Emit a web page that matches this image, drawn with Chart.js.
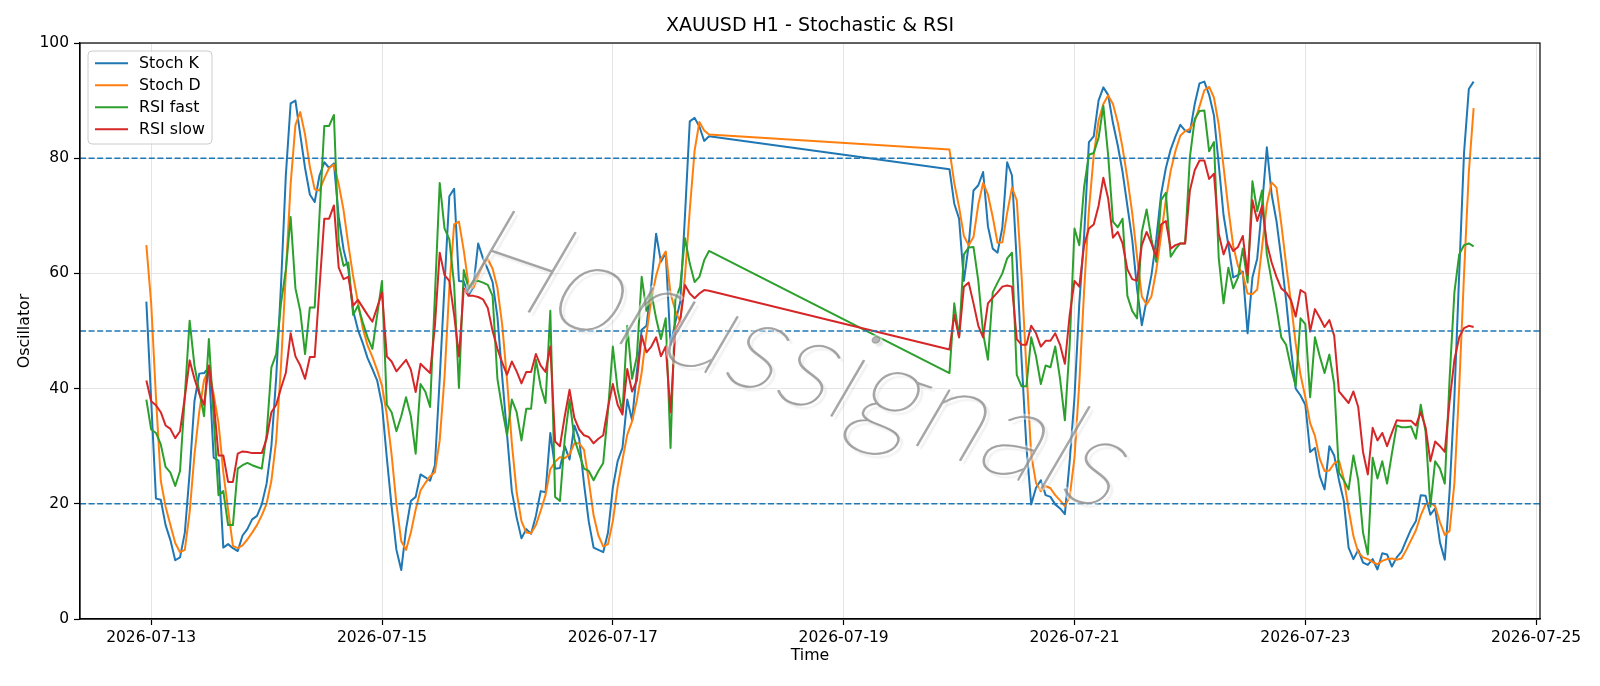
<!DOCTYPE html>
<html>
<head>
<meta charset="utf-8">
<script src="https://cdn.jsdelivr.net/npm/chart.js@4.4.1/dist/chart.umd.min.js"></script>
<style>
  html, body { margin: 0; padding: 0; background: #fff; }
  #wrap { width: 1600px; height: 686px; }
</style>
</head>
<body>
<div id="wrap"><canvas id="chart" width="1600" height="686"></canvas></div>
<script>
// ============================================================
// XAUUSD H1 — Stochastic & RSI oscillators
// ============================================================

// Hourly bars, two trading sessions (weekend gap between them)
var sessionStart1 = '2026-07-12T23:00:00Z';
var sessionStart2 = '2026-07-19T22:00:00Z';
var tickLabels = ['2026-07-13', '2026-07-15', '2026-07-17', '2026-07-19', '2026-07-21', '2026-07-23', '2026-07-25'];
var levels = [20, 50, 80];
var watermark = 'Horussignals';

// Session 1 (Mon–Fri)
var stochK1 = [
    55.1, 38, 20.9, 20.7, 16.3, 13.7, 10.2, 10.7, 15, 25.4,
    37.8, 42.6, 42.7, 43.7, 28, 27.5, 12.4, 13, 12.3, 11.8,
    14.5, 15.6, 17.3, 17.9, 19.9, 23.5, 30, 42, 58, 77,
    89.5, 90, 84.1, 78.3, 73.7, 72.4, 77, 79.3, 78.3, 79.1,
    69.8, 64.2, 60.7, 53.5, 50.2, 47.9, 45.3, 43.4, 41.4, 37.2,
    28, 19.5, 12, 8.5, 15.6, 20.5, 21.2, 25.1, 24.6, 24,
    26.7, 41.7, 58, 73.4, 74.7, 58.7, 58.6, 56.2, 57.7, 65.2,
    62.6, 60.7, 58.5, 52.5, 42, 32, 22.2, 17.6, 14, 15.6,
    14.8, 17.9, 22.2, 22, 32.3, 26.1, 26.2, 30, 27.7, 33.6,
    31.3, 23.5, 16.9, 12.4, 12, 11.6, 15, 22.8, 27.4, 29.7,
    38.1, 34.5, 43, 50.2, 50.9, 58, 66.9, 62, 63.6, 47.6,
    51.5, 55, 70, 86.4, 87, 85.5, 83, 83.8
];
var stochD1 = [
    64.9, 54.8, 38.5, 24, 19.5, 16.3, 13.2, 11.6, 12, 18.5,
    28.5, 36, 41.5, 43.3, 39, 34, 25.5, 19, 12.7, 12.3,
    12.8, 13.8, 15, 16.3, 18, 20, 24, 31, 44, 60,
    75.5, 85.8, 88, 84.1, 78.5, 74.6, 74.4, 76.5, 78.3, 78.9,
    75.5, 71, 65, 59.5, 55, 50.5, 47.5, 45.5, 43.2, 40.5,
    35.5, 28.5, 20, 13.5, 12, 15, 19, 22.3, 23.6, 24.8,
    25.5, 31, 42, 57.5, 68.5, 69, 64, 58, 57.5, 59.5,
    61.5, 62.5, 60.8, 57.5, 51, 41.5, 30.5, 22, 17, 15,
    14.9, 16.3, 18.8, 21.5, 26, 27.3, 28.1, 27.9, 28.6, 30.5,
    30.5, 29.4, 24, 18, 14.5, 12.6, 13, 17, 23, 27.6,
    32, 34.3, 38, 42.8, 49.5, 55.5, 59.6, 62.5, 63.8, 56.5,
    53.5, 51.6, 59.5, 71, 81.3, 86.3, 84.8, 84.1
];
var rsiFast1 = [
    38.1, 32.9, 32.3, 30.3, 26.4, 25.4, 23.1, 25.7, 38.8, 51.8,
    44, 39.5, 35.2, 48.6, 35, 21.5, 22.2, 16.3, 16.3, 26.1,
    26.7, 27.1, 26.7, 26.4, 26.1, 32, 43.7, 46, 54.8, 60.6,
    69.8, 57.4, 53.5, 46, 54.1, 54.1, 70, 85.6, 85.6, 87.5,
    65.2, 61.3, 61.9, 52.8, 54.4, 51.5, 48.9, 46.9, 52.8, 58.7,
    37.2, 35.9, 32.6, 35.2, 38.5, 35.2, 28.7, 40.8, 39.5, 36.8,
    56.1, 75.7, 67.8, 65.9, 58, 40.1, 60.6, 57.4, 58.7, 58.7,
    58.4, 58, 56.1, 41.7, 36.5, 31.9, 38.1, 35.9, 31, 36.5,
    36.5, 45, 40.4, 37.5, 53.5, 21.2, 20.5, 31.3, 38.1, 31.3,
    28.7, 26.1, 25.7, 24.1, 25.7, 27.1, 36.2, 47.3, 39.8, 35.9,
    50.9, 41.7, 45.6, 59.4, 53.5, 56.7, 52.2, 48.6, 52.2, 29.7,
    55.4, 57.7, 66.1, 61.7, 58.5, 59.4, 62.3, 63.9
];
var rsiSlow1 = [
    41.4, 37.8, 37.1, 35.9, 33.6, 33, 31.4, 32.6, 38.5, 44.9,
    41.7, 39.1, 37.2, 44, 37.8, 28.4, 28.4, 23.8, 23.8, 28.7,
    29.1, 29, 28.8, 28.8, 28.8, 31.3, 35.9, 37.2, 40.1, 42.7,
    49.6, 45.6, 44, 41.7, 45.5, 45.5, 57.5, 69.5, 69.5, 71.8,
    61, 59, 59.4, 54.4, 55.4, 54.1, 52.8, 51.6, 54.1, 56.7,
    45.6, 44.7, 43, 44, 45, 43.3, 39.4, 44.3, 43.5, 42.7,
    50.9, 63.6, 59.7, 58.7, 52.8, 45.6, 57.4, 56.1, 56.1, 55.9,
    55.5, 54, 50, 46.9, 44.5, 42.4, 44.7, 43, 40.9, 42.9,
    42.9, 46, 44, 42.9, 47.3, 30.8, 30, 35.2, 39.8, 34.9,
    32.9, 31.9, 31.6, 30.5, 31.3, 31.9, 36.8, 40.8, 37.2, 35.5,
    43.4, 39.5, 41.4, 49.2, 46.3, 47.3, 48.9, 45.6, 47.3, 35.9,
    50.2, 51.8, 58, 56.5, 55.7, 56.5, 57.1, 57
];

// Session 2 (Sun evening – Fri)
var stochK2 = [
    78.1, 72.1, 69.5, 58.7, 64.9, 74.4, 75.3, 77.6, 68.2, 64.3,
    63.6, 68, 79.3, 77, 62, 45, 30, 19.9, 22.8, 24.1,
    21.5, 21.2, 19.9, 19.2, 18.2, 27.4, 38.5, 54.8, 66.5, 82.8,
    83.8, 90, 92.3, 91, 86.1, 82.2, 77.6, 71.7, 65.9, 57.4,
    51, 55.4, 59.7, 65.9, 73.7, 78.3, 81.5, 83.8, 85.8, 84.8,
    84.5, 89.4, 93, 93.3, 91, 87.4, 78.9, 70.1, 64.9, 59.3,
    59.7, 60.3, 49.6, 59.3, 62.6, 71.7, 81.9, 73.7, 69.1, 62.6,
    55.4, 47, 40, 38.8, 37.2, 29, 29.7, 24.8, 22.5, 30,
    28.4, 24.1, 20.5, 12.4, 10.4, 12, 9.8, 9.4, 10.4, 8.6,
    11.4, 11.2, 9.1, 10.7, 11.7, 13.7, 15.6, 17, 21.5, 21.4,
    18.1, 19.2, 13.3, 10.3, 22.2, 38.5, 60, 80.9, 92, 93.3
];
var stochD2 = [
    81.5, 75.7, 71.5, 66.5, 64.9, 66.3, 72, 75.7, 73.7, 69.8,
    65.3, 65.4, 70.5, 74.9, 72.7, 59.5, 43.5, 28.5, 23.6, 22.2,
    23.1, 22.7, 21.5, 20.6, 19.6, 21.2, 28, 41, 57, 71,
    80.5, 86.5, 89.4, 90.9, 89.4, 86.2, 81.8, 76.5, 70.5, 63,
    56, 54.6, 56, 60.5, 66.5, 72.8, 77.8, 81.3, 83.9, 84.7,
    85.1, 86.4, 89, 91.8, 92.4, 90.5, 85.8, 78.5, 71.2, 64.8,
    61.3, 59.8, 56.5, 56.4, 57.2, 64.5, 72, 75.8, 74.9, 68.6,
    61.6, 55, 47.8, 42.4, 38.5, 34, 31.8, 27.8, 25.7, 25.8,
    27, 27.5, 24.3, 19.1, 14.4, 11.6, 10.7, 10.4, 9.9, 9.5,
    10.1, 10.4, 10.5, 10.3, 10.5, 12, 13.7, 15.4, 18, 19.9,
    20.2, 19.6, 16.8, 14.6, 15.3, 23.6, 40.2, 59.8, 77.6, 88.7
];
var rsiFast2 = [
    42.7, 54.8, 48.9, 63.3, 64.5, 64.6, 58.7, 49.6, 45, 56.7,
    58.4, 60, 62.6, 63.6, 42.4, 40.4, 40.4, 48.9, 45.6, 40.8,
    44, 43.7, 47.3, 41.7, 34.5, 47.6, 67.8, 64.9, 75, 80.6,
    80.9, 83.5, 89.1, 80.5, 69, 68, 69.5, 56.1, 53.5, 52.2,
    67.2, 71.1, 65.9, 62, 72.7, 74, 62.9, 64.2, 65.2, 65.2,
    80.2, 86.8, 88.2, 88.3, 81.2, 82.8, 62.6, 54.8, 61, 57.4,
    59.3, 64.3, 58.4, 76, 70.8, 74.4, 63.3, 58.7, 54.1, 48.9,
    47.6, 43.7, 40.4, 52.2, 51.2, 38.5, 48.9, 45.6, 42.7, 45.9,
    40.8, 25.4, 24.1, 22.5, 28.4, 24.1, 15, 11.2, 28, 24.4,
    27.4, 23.5, 28.7, 33.6, 33.3, 33.3, 33.4, 31.3, 37.2, 32.6,
    19.5, 27.4, 26.1, 23.5, 41.7, 56.7, 63.3, 64.9, 65.2, 64.7
];
var rsiSlow2 = [
    46.8, 52.8, 48.9, 57.7, 58.4, 54.8, 50.9, 48.9, 54.8, 55.8,
    56.7, 57.7, 57.9, 57.7, 48.6, 47.6, 47.6, 50.9, 49.6, 47.3,
    48.3, 48.3, 49.6, 47.6, 44.3, 52.8, 58.7, 57.7, 64.9, 67.8,
    68.5, 71.7, 76.6, 73, 66.2, 67.2, 65.2, 60.7, 59, 58.7,
    64.9, 67.2, 65.2, 62.9, 68.5, 69.1, 64.3, 64.9, 65.2, 65.2,
    74.4, 77.9, 79.6, 79.6, 76.4, 77.3, 66.9, 63.3, 65.5, 63.9,
    64.6, 66.5, 59.7, 72.7, 69.1, 71.7, 65.2, 61.9, 59.4, 57.4,
    56.7, 55.4, 52.5, 57.1, 56.6, 49.9, 53.8, 52.3, 50.7, 51.9,
    49.2, 39.5, 38.5, 37.5, 39.5, 36.8, 29, 25.1, 33.2, 31,
    32.3, 30, 32.3, 34.5, 34.4, 34.4, 34.4, 33.6, 35.9, 33.3,
    27.4, 30.8, 30, 29, 37.8, 45, 48.9, 50.5, 50.9, 50.7
];

// ------------------------------------------------------------
// Time axis: hours since the first tick date
// ------------------------------------------------------------
var origin = Date.parse(tickLabels[0] + 'T00:00:00Z');
function hoursFrom(iso) { return (Date.parse(iso) - origin) / 3600000; }

function buildPoints(start1, vals1, start2, vals2) {
    var h1 = hoursFrom(start1), h2 = hoursFrom(start2);
    var pts = vals1.map(function(v, i) { return { x: h1 + i, y: v }; });
    return pts.concat(vals2.map(function(v, i) { return { x: h2 + i, y: v }; }));
}

var series = [
    { label: 'Stoch K',  color: '#1f77b4', data: buildPoints(sessionStart1, stochK1, sessionStart2, stochK2) },
    { label: 'Stoch D',  color: '#ff7f0e', data: buildPoints(sessionStart1, stochD1, sessionStart2, stochD2) },
    { label: 'RSI fast', color: '#2ca02c', data: buildPoints(sessionStart1, rsiFast1, sessionStart2, rsiFast2) },
    { label: 'RSI slow', color: '#d62728', data: buildPoints(sessionStart1, rsiSlow1, sessionStart2, rsiSlow2) }
];

// matplotlib-style 5% x margins
var firstX = series[0].data[0].x;
var lastX = series[0].data[series[0].data.length - 1].x;
var spanX = lastX - firstX;
var xMin = firstX - 0.05 * spanX;
var xMax = lastX + 0.05 * spanX;

var datasets = series.map(function(s, i) {
    return {
        label: s.label,
        data: s.data,
        borderColor: s.color,
        backgroundColor: s.color,
        borderWidth: 2,
        pointRadius: 0,
        tension: 0,
        borderJoinStyle: 'round',
        fill: false,
        order: series.length - i
    };
});

levels.forEach(function(lvl) {
    datasets.push({
        label: 'level ' + lvl,
        data: [{ x: xMin, y: lvl }, { x: xMax, y: lvl }],
        borderColor: '#1f77b4',
        borderWidth: 1.5,
        borderDash: [6, 2.6],
        pointRadius: 0,
        fill: false,
        order: -1
    });
});

var FONT = '"DejaVu Sans", Verdana, sans-serif';
Chart.defaults.font.family = FONT;
Chart.defaults.color = '#000';

// Find an installed family that really has a hairline/thin face
function pickThinFamily() {
    var c = document.createElement('canvas');
    c.width = 360; c.height = 120;
    var g = c.getContext('2d');
    function ink(font) {
        g.clearRect(0, 0, c.width, c.height);
        g.font = font;
        g.fillStyle = '#000';
        g.textBaseline = 'top';
        g.fillText('Hos', 10, 10);
        var d = g.getImageData(0, 0, c.width, c.height).data, s = 0;
        for (var i = 3; i < d.length; i += 4) s += d[i];
        return s;
    }
    var best = null, bestRatio = 0.8;
    ['Lato', 'Roboto', 'Inter', 'Noto Sans', 'Open Sans', 'DejaVu Sans'].forEach(function(f) {
        var r = ink('100 90px "' + f + '"') / ink('400 90px "' + f + '"');
        if (r < bestRatio) { bestRatio = r; best = f; }
    });
    return best;
}
var thinFamily = pickThinFamily();

var decor = {
    id: 'decor',
    afterDraw: function(chart) {
        var ctx = chart.ctx;
        var a = chart.chartArea;
        ctx.save();

        // four spines
        ctx.strokeStyle = '#000';
        ctx.lineWidth = 1.2;
        ctx.strokeRect(a.left, a.top, a.right - a.left, a.bottom - a.top);

        // watermark: thin slanted text with a soft drop shadow
        ctx.save();
        ctx.translate(779, 398);
        ctx.rotate(19 * Math.PI / 180);
        ctx.transform(1, 0, -0.2, 1, 0, 0);
        ctx.textAlign = 'center';
        ctx.textBaseline = 'alphabetic';
        var targetWidth = 690;
        if (thinFamily) {
            ctx.font = '100 110px "' + thinFamily + '"';
            var size = 110 * targetWidth / ctx.measureText(watermark).width;
            ctx.font = '100 ' + size.toFixed(1) + 'px "' + thinFamily + '"';
            ctx.lineJoin = 'round';
            ctx.strokeStyle = 'rgba(255,255,255,0.45)';
            ctx.lineWidth = 5;
            ctx.strokeText(watermark, 0, 0);
            ctx.shadowColor = 'rgba(0,0,0,0.16)';
            ctx.shadowOffsetX = 3.5;
            ctx.shadowOffsetY = 3.5;
            ctx.shadowBlur = 2;
            ctx.fillStyle = 'rgba(135,135,135,0.6)';
            ctx.strokeStyle = 'rgba(135,135,135,0.6)';
            ctx.lineWidth = 1.1;
            ctx.fillText(watermark, 0, 0);
            ctx.shadowColor = 'transparent';
            ctx.strokeText(watermark, 0, 0);
        } else {
            ctx.font = '110px ' + FONT;
            ctx.shadowColor = 'rgba(0,0,0,0.14)';
            ctx.shadowOffsetX = 3.5;
            ctx.shadowOffsetY = 3.5;
            ctx.shadowBlur = 2;
            ctx.fillStyle = 'rgba(255,255,255,0.6)';
            ctx.fillText(watermark, 0, 0);
            ctx.shadowColor = 'transparent';
            ctx.strokeStyle = 'rgba(140,140,140,0.5)';
            ctx.lineWidth = 1.2;
            ctx.strokeText(watermark, 0, 0);
        }
        ctx.restore();

        // legend
        var lx = 88, ly = 51, lw = 124, lh = 93;
        ctx.beginPath();
        ctx.roundRect(lx, ly, lw, lh, 4);
        ctx.fillStyle = 'rgba(255,255,255,0.8)';
        ctx.fill();
        ctx.strokeStyle = '#cccccc';
        ctx.lineWidth = 1;
        ctx.stroke();
        ctx.font = '15.8px ' + FONT;
        ctx.textAlign = 'left';
        ctx.textBaseline = 'middle';
        series.forEach(function(s, i) {
            var y = 63.3 + i * 22;
            ctx.beginPath();
            ctx.moveTo(95, y);
            ctx.lineTo(128, y);
            ctx.strokeStyle = s.color;
            ctx.lineWidth = 2;
            ctx.stroke();
            ctx.fillStyle = '#000';
            ctx.fillText(s.label, 139, y + 1);
        });

        // title and axis labels
        var cx = (a.left + a.right) / 2;
        ctx.fillStyle = '#000';
        ctx.textAlign = 'center';
        ctx.font = '19px ' + FONT;
        ctx.fillText('XAUUSD H1 - Stochastic & RSI', cx, 26);
        ctx.font = '15.8px ' + FONT;
        ctx.fillText('Time', cx, 656);
        ctx.save();
        ctx.translate(25, (a.top + a.bottom) / 2);
        ctx.rotate(-Math.PI / 2);
        ctx.fillText('Oscillator', 0, 0);
        ctx.restore();

        ctx.restore();
    }
};

var tickValues = tickLabels.map(function(d) { return hoursFrom(d + 'T00:00:00Z'); });

new Chart(document.getElementById('chart').getContext('2d'), {
    type: 'line',
    data: { datasets: datasets },
    options: {
        responsive: false,
        animation: false,
        devicePixelRatio: 1,
        events: [],
        layout: { padding: { left: 0, top: 43, right: 60, bottom: 0 } },
        plugins: {
            legend: { display: false },
            title: { display: false },
            tooltip: { enabled: false }
        },
        scales: {
            x: {
                type: 'linear',
                min: xMin,
                max: xMax,
                afterBuildTicks: function(scale) {
                    scale.ticks = tickValues.map(function(v) { return { value: v }; });
                },
                afterFit: function(scale) { scale.height = 67; },
                ticks: {
                    autoSkip: false,
                    maxRotation: 0,
                    padding: 4,
                    font: { size: 15.5 },
                    color: '#000',
                    callback: function(value) {
                        var idx = tickValues.indexOf(value);
                        return idx >= 0 ? tickLabels[idx] : '';
                    }
                },
                grid: {
                    color: '#e4e4e4',
                    lineWidth: 1,
                    tickColor: '#000',
                    tickLength: 6,
                    tickWidth: 1.2
                },
                border: { color: '#000', width: 1.2 }
            },
            y: {
                min: 0,
                max: 100,
                afterFit: function(scale) { scale.width = 80; },
                ticks: {
                    stepSize: 20,
                    padding: 5,
                    font: { size: 15.5 },
                    color: '#000'
                },
                grid: {
                    color: '#e4e4e4',
                    lineWidth: 1,
                    tickColor: '#000',
                    tickLength: 6,
                    tickWidth: 1.2
                },
                border: { color: '#000', width: 1.2 }
            }
        }
    },
    plugins: [decor]
});
</script>
</body>
</html>
